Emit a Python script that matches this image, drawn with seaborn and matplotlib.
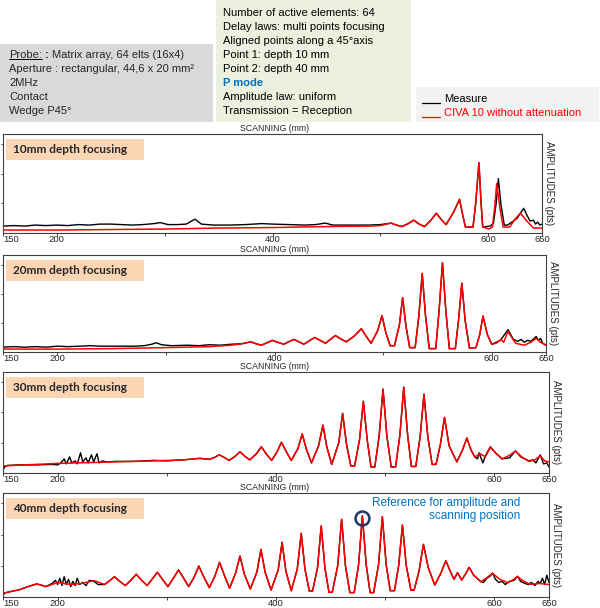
import numpy as np
import matplotlib
matplotlib.use("Agg")
import matplotlib.pyplot as plt
import seaborn as sns
from matplotlib.patches import Rectangle
from matplotlib.lines import Line2D

# (scanning mm, amplitude pts)
# odcinki wspolne dla pomiaru i symulacji (krzywe sie pokrywaja)
lobes_10 = np.array([(510, 10), (515, 8), (520, 6.5), (526, 9.5), (531, 13), (536, 9), (541, 6.5), (547, 13),
                     (552, 20), (557, 13), (561, 8.5), (568, 21), (573.5, 34), (576.5, 18), (579, 6), (586, 6),
                     (588.5, 30), (591.5, 71), (593.5, 30), (595, 6)])
measure_10_left = np.array([(150, 7), (160, 7.5), (170, 7), (180, 8), (190, 7.5), (200, 8), (210, 7.5), (220, 8.5),
                            (230, 8), (240, 9), (250, 9), (260, 8.5), (270, 8), (280, 8.5), (290, 9.5), (296, 10.5),
                            (303, 8.5), (312, 8.5), (320, 9), (328, 14), (334, 9), (345, 8), (360, 8), (375, 8.5),
                            (390, 9.5), (400, 9), (415, 8.5), (430, 8), (440, 8.5), (449, 10), (456, 8), (470, 8),
                            (490, 8), (500, 8.5)])
measure_10_right = np.array([(602, 7), (605, 10), (607.5, 30), (609.5, 55), (612, 28), (615, 8), (618, 8), (622, 11),
                             (627, 15), (633, 25), (636, 18), (639, 12), (642, 13), (644, 9), (646, 11), (648, 8),
                             (650, 9)])
civa_10_left = np.array([(150, 3), (200, 3), (250, 3.5), (300, 4), (350, 5), (400, 5.5), (450, 6.5), (490, 7),
                         (500, 7.5)])
civa_10_right = np.array([(601, 4), (604, 6), (606, 25), (608, 50), (611, 25), (614, 6), (620, 6), (625, 14),
                          (630, 20), (636, 12), (642, 5), (650, 5)])

lobes_20 = np.array([(378, 10.5), (383, 8.5), (388, 7), (393, 9.5), (398, 12), (403, 10), (408.5, 8), (413, 10.5),
                     (418, 13), (422.5, 10.5), (427, 8), (432, 11.5), (437, 15), (442, 12), (447, 9), (451.5, 13),
                     (456, 17), (461, 13.5), (466, 10.5), (473, 16), (480, 24), (484.5, 16), (489, 9), (495, 22),
                     (499, 37.5), (502.5, 20), (506.5, 6.5), (510.5, 6.5), (515, 28), (518, 56), (521, 27),
                     (524.5, 4.5), (529.5, 4.5), (533, 38), (536, 81), (539, 38), (542.5, 3.5), (548.5, 3.5),
                     (551.5, 42), (554.7, 92), (557.8, 42), (561, 3.5), (566.5, 3.5), (569.5, 33), (572.5, 71),
                     (575.5, 33), (579.5, 4), (585.5, 4.5), (589, 18), (592, 37), (596, 18), (600, 8)])
measure_20_left = np.array([(150, 5), (160, 5.5), (170, 5), (180, 5.5), (190, 5), (200, 6), (210, 5.5), (220, 6),
                            (230, 6.5), (240, 6), (250, 6), (260, 6), (270, 6), (280, 6.5), (287, 8), (291, 9.5),
                            (296, 7.5), (305, 6.5), (320, 7), (330, 6.5), (340, 7.5), (350, 7), (360, 8), (370, 8.5)])
measure_20_right = np.array([(604, 10), (608, 12), (615, 23), (620, 13), (624, 11), (627, 13), (630, 10), (633, 12),
                             (636, 11), (639, 14), (641, 16), (643, 12), (645, 14), (647, 9), (650, 7)])
civa_20_left = np.array([(150, 3), (200, 3), (250, 3.5), (300, 4.5), (340, 5.5), (360, 7), (370, 8.5)])
civa_20_right = np.array([(604, 9), (608.5, 13), (611, 10), (615, 21), (622, 9), (630, 7), (636, 10), (641, 14),
                          (645, 10), (650, 7)])

lobes_30 = np.array([(330, 14.5), (339, 13.5), (344, 15.5), (348, 18), (352.5, 15.5), (357, 12.5), (362.5, 16.5),
                     (367, 21), (371.5, 16.5), (376, 13), (382, 19), (386.6, 26), (391, 19), (396, 12.5), (401, 21),
                     (405, 30.4), (409.5, 21), (414, 12.4), (420, 24), (424, 38.6), (428, 23), (432.5, 10),
                     (439, 27), (443, 47.4), (446.5, 26), (451, 8.5), (457.5, 30), (461, 59), (464.5, 29),
                     (468.5, 7), (472, 7), (476.5, 33), (480, 71), (483.5, 33), (487, 6), (490.5, 6), (494.5, 37),
                     (498, 83), (501.5, 37), (505.5, 6), (509.5, 6), (513.5, 38), (517, 85), (520.5, 38),
                     (524, 6.5), (528, 6.5), (532, 36), (535.5, 78), (539, 36), (543, 8.5), (546.5, 8.5),
                     (550.5, 28), (554.3, 55), (558.5, 27), (565.6, 11), (570.5, 22), (574.8, 34.6), (578.5, 23),
                     (582, 16)])
measure_30_left = np.array([(150, 3), (151.5, 6), (154, 7.5), (165, 8), (180, 8), (195, 8.5), (200, 8), (203, 10),
                            (206, 14), (208, 9), (211, 16), (213, 10), (216, 12), (218, 9), (221, 20), (223, 11),
                            (226, 15), (228, 10), (231, 18), (233, 11), (236, 19), (238, 10), (241, 12), (245, 11),
                            (253, 11.5), (270, 11.5), (288, 12.5), (300, 12), (315, 13)])
measure_30_right = np.array([(584.5, 14), (586, 20), (588, 14), (589.5, 10), (591.7, 17), (596.3, 26), (601, 20),
                             (607, 14), (614, 15), (619.3, 22), (624, 16), (628, 14), (631.6, 12), (635, 13),
                             (638, 10), (642, 18), (645, 9), (648, 10), (650, 6)])
civa_30_left = np.array([(150, 7), (180, 8.5), (200, 9.5), (253, 11), (288, 12), (315, 13)])
civa_30_right = np.array([(587, 19), (591.7, 16), (596.3, 25.5), (601, 20), (607, 14), (613, 17), (619.3, 21.6),
                          (625, 16), (631.6, 11.4), (637, 13), (642, 17), (646, 12), (650, 11)])

lobes_40 = np.array([(243, 12), (247.5, 15.5), (252, 19.6), (257, 15), (262, 11), (267, 16), (272, 21.8), (277, 16),
                     (282, 11), (286.5, 17), (291.4, 23.7), (296, 17), (301, 10), (306, 18), (310.7, 26),
                     (315.5, 18), (320, 10), (325, 19), (329.3, 29.8), (334, 19), (339, 9), (344, 20), (348.3, 33.3),
                     (353, 20), (357.5, 8.5), (363, 23), (367, 39.4), (371, 22), (376.5, 7.7), (382.5, 24),
                     (386.2, 45.8), (390, 24), (395.5, 6.7), (402, 26), (405.6, 52.6), (409, 25), (414, 6),
                     (419.5, 27), (423.1, 61.2), (426.5, 27), (430.5, 5.8), (433.5, 5.8), (438, 28), (441.4, 68.3),
                     (444.8, 28), (448.5, 4.5), (451.5, 4.5), (456.5, 30), (460.1, 74.7), (463.6, 30), (467.6, 4.2),
                     (471.6, 4.2), (475.6, 31), (479.1, 77.9), (482.6, 31), (486.2, 4.2), (489.4, 4.2), (493.9, 31),
                     (497.4, 77.2), (500.9, 31), (504.6, 6.1), (508.5, 6.1), (512.3, 30), (515.8, 69.2),
                     (519.3, 30), (523.5, 6.7), (526.5, 6.7), (531, 25), (535, 50.6), (539.5, 28), (545.4, 11.5),
                     (551, 23), (555.5, 34.9), (559.5, 25), (563, 17), (566.2, 23.4), (570, 16.3), (573.5, 22),
                     (576.9, 28.5), (581, 21), (587.6, 14.7)])
measure_40_left = np.array([(150, 2), (152, 4), (158, 5.5), (165, 7), (173, 10), (180.6, 12.5), (185, 11.5), (189, 10),
                            (195, 13), (198, 16), (200, 12), (202, 18), (204, 11), (206, 19.5), (208, 12), (210, 17),
                            (212, 10), (214, 15), (216, 11), (218, 18), (220, 12), (223, 14), (226, 11), (229, 16),
                            (233.4, 15), (237, 12)])
measure_40_right = np.array([(590, 14), (593, 18), (596, 20), (598.3, 23), (601, 17), (604, 14), (607, 15), (610, 12),
                             (614, 15), (618, 16), (621.2, 20), (624, 15), (628, 13), (631, 12), (634, 14), (637, 11),
                             (640, 15), (642, 13), (644, 18), (646, 12), (648, 21), (650, 14)])
civa_40_left = np.array([(150, 3.5), (158, 5.5), (165, 7), (173, 10), (180.6, 12.5), (185, 11.5), (189, 10),
                         (195, 12), (200, 14), (206, 13), (212, 12), (217, 12.5), (222, 13), (228, 14.5),
                         (233.4, 15.7), (238, 14)])
civa_40_right = np.array([(593, 18.5), (598.3, 22.8), (605, 17), (612, 13.8), (617, 16.5), (621.2, 19.6), (627, 15),
                          (633.4, 12.2), (641, 13), (650, 12)])

panel_titles = ["10mm depth focusing", "20mm depth focusing", "30mm depth focusing", "40mm depth focusing"]
measures = [np.vstack([measure_10_left, lobes_10, measure_10_right]),
            np.vstack([measure_20_left, lobes_20, measure_20_right]),
            np.vstack([measure_30_left, lobes_30, measure_30_right]),
            np.vstack([measure_40_left, lobes_40, measure_40_right])]
civas = [np.vstack([civa_10_left, lobes_10, civa_10_right]),
         np.vstack([civa_20_left, lobes_20, civa_20_right]),
         np.vstack([civa_30_left, lobes_30, civa_30_right]),
         np.vstack([civa_40_left, lobes_40, civa_40_right])]
tick_pos = [150, 200, 300, 400, 500, 600, 650]
tick_lbl = ["150", "200", "", "400", "", "600", "650"]
reference_peak = (479.1, 76)

probe_lines = ["Aperture : rectangular, 44,6 x 20 mm²", "2MHz", "Contact", "Wedge P45°"]
law_lines = ["Number of active elements: 64", "Delay laws: multi points focusing",
             "Aligned points along a 45°axis", "Point 1: depth 10 mm", "Point 2: depth 40 mm",
             "P mode", "Amplitude law: uniform", "Transmission = Reception"]

sns.set_style("white")
plt.rcParams["font.family"] = ["Liberation Sans", "DejaVu Sans"]

W, H = 600, 608
fig = plt.figure(figsize=(6, 6.08), dpi=100)


def fx(px):
    return px / W


def fy(py):
    return 1 - py / H


def box(x0, y0, x1, y1, color):
    fig.patches.append(Rectangle((fx(x0), fy(y1)), fx(x1 - x0), (y1 - y0) / H,
                                 transform=fig.transFigure, facecolor=color, edgecolor="none", zorder=0))


# Ramki z opisem
box(0, 44, 213, 122, "#D9D9D9")
box(216, 0, 411, 122, "#EBF1DE")
box(416, 87, 599, 122, "#F2F2F2")

renderer = fig.canvas.get_renderer()
t = fig.text(fx(9), fy(55), "Probe:", fontsize=8, va="center")
bb = t.get_window_extent(renderer)
fig.add_artist(Line2D([bb.x0 / W, bb.x1 / W], [(bb.y0 + 1) / H] * 2, color="black", lw=0.7))
t2 = fig.text((bb.x1 + 3) / W, fy(55), ":", fontsize=8, va="center", fontweight="bold")
bb2 = t2.get_window_extent(renderer)
fig.text((bb2.x1 + 3) / W, fy(55), "Matrix array, 64 elts (16x4)", fontsize=8, va="center")
for i, line in enumerate(probe_lines):
    fig.text(fx(9), fy(69 + 14 * i), line, fontsize=8, va="center")

for i, line in enumerate(law_lines):
    bold = line == "P mode"
    fig.text(fx(223), fy(12.5 + 14.1 * i), line, fontsize=8, va="center",
             color="#0070C0" if bold else "black", fontweight="bold" if bold else "normal")

# Legenda
for i, (name, col) in enumerate([("Measure", "black"), ("CIVA 10 without attenuation", "red")]):
    yc = 99 + 14 * i
    fig.add_artist(Line2D([fx(422), fx(440)], [fy(yc + 4)] * 2, color=col, lw=0.9))
    fig.text(fx(444), fy(yc), name, fontsize=8, va="center", color=col)

panels = [(3, 134, 542, 233), (3, 255, 546, 352), (3, 372, 549, 473), (3, 493, 549, 597)]

for i, (x0, y0, x1, y1) in enumerate(panels):
    ax = fig.add_axes([fx(x0), fy(y1), fx(x1 - x0), (y1 - y0) / H])
    m, c = measures[i], civas[i]
    sns.lineplot(x=m[:, 0], y=m[:, 1], ax=ax, color="black", linewidth=1.0, estimator=None, sort=False)
    sns.lineplot(x=c[:, 0], y=c[:, 1], ax=ax, color="red", linewidth=1.1, estimator=None, sort=False)
    ax.set_xlim(150, 650)
    ax.set_ylim(0, 100)
    ax.set_xticks(tick_pos)
    ax.set_xticklabels(tick_lbl)
    ax.get_xticklabels()[0].set_horizontalalignment("left")
    ax.set_yticks([30, 60, 90])
    ax.set_yticklabels([])
    ax.tick_params(axis="x", bottom=True, direction="out", length=2.2, width=0.6, pad=-0.5, labelsize=6.8)
    ax.tick_params(axis="y", left=True, direction="out", length=1.5, width=0.6)
    ax.set_xlabel("")
    ax.set_ylabel("")
    for s in ax.spines.values():
        s.set_color("#404040")
        s.set_linewidth(0.8)
    fig.text(fx(275), fy(y0 - 5.5), "SCANNING (mm)", fontsize=6.3, ha="center", va="center")
    fig.text(fx(x1 + 2), fy((y0 + y1) / 2), "AMPLITUDES (pts)", fontsize=7, rotation=270,
             ha="left", va="center")
    box(6, y0 + 5, 144, y0 + 26, "#FCD5B5")
    fig.text(fx(13), fy(y0 + 15.5), panel_titles[i], fontsize=8.5, fontweight="bold",
             family=["Lato", "DejaVu Sans"], va="center")
    if i == 3:
        ax.plot([reference_peak[0]], [reference_peak[1]], marker="o", ms=10, mfc="none",
                mec="#1F3864", mew=1.8)

fig.text(fx(520), fy(509.5), "Reference for amplitude and\nscanning position", ha="right", va="center",
         multialignment="right", color="#0070C0", fontsize=8.5, linespacing=1.15)

plt.savefig("out.png", dpi=100)
